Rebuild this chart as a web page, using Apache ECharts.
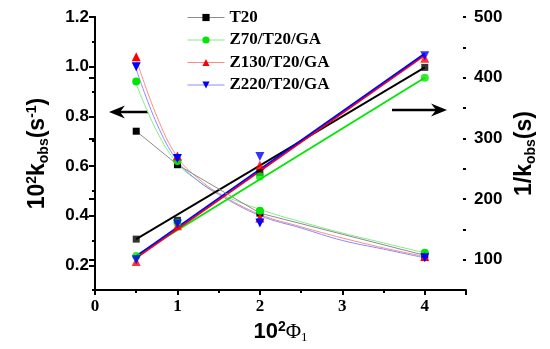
<!DOCTYPE html>
<html>
<head>
<meta charset="utf-8">
<script src="https://cdn.jsdelivr.net/npm/echarts@6/dist/echarts.min.js"></script>
<style>html,body{margin:0;padding:0;background:#fff;}#c{width:550px;height:349px;}</style>
</head>
<body>
<div id="c"></div>
<script>
// x positions (10^2 Phi_1)
const xVals = [0.5, 1, 2, 4];
// left axis: 10^2 k_obs (s^-1)
const kT20 = [0.74, 0.605, 0.41, 0.24];
const kZ70 = [0.94, 0.62, 0.42, 0.25];
const kZ130 = [1.04, 0.64, 0.39, 0.235];
const kZ220 = [1.00, 0.63, 0.37, 0.23];
// right axis: 1/k_obs (s)
const invT20 = [134, 165, 244, 417];
const invZ70 = [106, 161, 237, 400];
const invZ130 = [97, 156, 256, 432];
const invZ220 = [100, 159, 270, 436];
// fitted decay curves
const fitX = [0.5, 0.75, 1, 1.25, 1.5, 2, 2.5, 3, 3.5, 4];
const fitZ70 = [0.93, 0.74, 0.61, 0.54, 0.49, 0.425, 0.375, 0.33, 0.29, 0.25];
const fitZ130 = [1.03, 0.80, 0.635, 0.55, 0.49, 0.405, 0.355, 0.31, 0.27, 0.235];
const fitZ220 = [0.99, 0.77, 0.62, 0.54, 0.485, 0.40, 0.35, 0.30, 0.265, 0.23];
// linear fits (endpoints) on right axis
const linX = [0.5, 4];
const linT20 = [134, 417];
const linZ70 = [107, 400];
const linZ130 = [103, 437];
const linZ220 = [106, 440];
// tick labels
const xTicks = [0, 1, 2, 3, 4];
const leftTicks = [0.2, 0.4, 0.6, 0.8, 1.0, 1.2];
const rightTicks = [100, 200, 300, 400, 500];
const names = ['T20', 'Z70/T20/GA', 'Z130/T20/GA', 'Z220/T20/GA'];

const pair = (xs, ys) => xs.map((x, i) => [x, ys[i]]);

const cBlack = '#000000', cGreen = '#00e600', cRed = '#ff0000', cBlue = '#0000ff';
const pale = ['#8c8c8c', '#80ee80', '#ff8a8a', '#8a8aff'];
const cols = [cBlack, cGreen, cRed, cBlue];
const syms = ['rect', 'circle', 'triangle', 'path://M0,0 L10,0 L5,9 Z'];
const symSizes = [7, 8, 9, 9];

const chart = echarts.init(document.getElementById('c'));
const sansB = {fontFamily: 'Liberation Sans', fontWeight: 'bold', color: '#000'};
const hiddenLine = {show: true, lineStyle: {color: 'rgba(0,0,0,0)', width: 0}};

const series = [];
// left series (points)
[kT20, kZ70, kZ130, kZ220].forEach((arr, i) => {
  series.push({
    name: names[i], type: 'line', yAxisIndex: 0,
    data: pair(xVals, arr),
    symbol: syms[i], symbolSize: symSizes[i],
    itemStyle: {color: cols[i]},
    lineStyle: i === 0 ? {color: pale[0], width: 1} : {width: 0, opacity: 0},
    z: 5, silent: true
  });
});
// fit curves
[fitZ70, fitZ130, fitZ220].forEach((arr, i) => {
  series.push({
    type: 'line', yAxisIndex: 0, smooth: 0.4, showSymbol: false,
    data: pair(fitX, arr),
    lineStyle: {color: pale[i + 1], width: 1}, z: 3, silent: true
  });
});
// right linear fits
[linT20, linZ70, linZ130, linZ220].forEach((arr, i) => {
  series.push({
    type: 'line', yAxisIndex: 1, showSymbol: false,
    data: pair(linX, arr),
    lineStyle: {color: cols[i], width: 1.8}, z: 4, silent: true
  });
});
// right points
[invT20, invZ70, invZ130, invZ220].forEach((arr, i) => {
  series.push({
    type: 'scatter', yAxisIndex: 1,
    data: pair(xVals, arr),
    symbol: syms[i], symbolSize: symSizes[i],
    itemStyle: {color: cols[i]}, z: 5, silent: true
  });
});

chart.setOption({
  animation: false,
  grid: {left: 95, right: 84, top: 17, bottom: 57},
  legend: {
    orient: 'vertical', left: 182, top: 4,
    itemWidth: 37, itemHeight: 9, itemGap: 5.5,
    textStyle: {fontFamily: 'Liberation Serif', fontWeight: 'bold', fontSize: 17, color: '#000', lineHeight: 16},
    data: names.map((n, i) => ({name: n, lineStyle: {color: pale[i], width: 1, opacity: 1}}))
  },
  xAxis: [
    {
      type: 'value', min: 0, max: 4.5, interval: 1,
      axisLine: {show: true, onZero: false, lineStyle: {color: '#000', width: 2}},
      axisTick: {show: true, length: 5, lineStyle: {color: '#000', width: 2}},
      splitLine: {show: false},
      axisLabel: {customValues: xTicks, fontFamily: 'Liberation Serif', fontWeight: 'bold', fontSize: 17, color: '#000', margin: 8},
      name: '{b|10}{sup|2}{phi|Φ}{sub|1}', nameLocation: 'middle', nameGap: 24,
      nameTextStyle: {rich: {
        b: {fontFamily: 'Liberation Sans', fontWeight: 'bold', fontSize: 22, lineHeight: 24, color: '#000'},
        sup: {fontFamily: 'Liberation Sans', fontWeight: 'bold', fontSize: 14, verticalAlign: 'top', color: '#000'},
        phi: {fontFamily: 'Liberation Serif', fontSize: 21, color: '#000'},
        sub: {fontFamily: 'Liberation Serif', fontSize: 13, verticalAlign: 'bottom', color: '#000'}
      }}
    },
    {
      type: 'value', position: 'bottom', min: 0, max: 4.5, interval: 0.5,
      axisLine: Object.assign({onZero: false}, hiddenLine), axisLabel: {show: false}, splitLine: {show: false},
      axisTick: {show: true, length: 3, lineStyle: {color: '#000', width: 2}}
    }
  ],
  yAxis: [
    {
      type: 'value', position: 'left', min: 0.1, max: 1.2,
      axisLine: {show: true, lineStyle: {color: '#000', width: 2}},
      axisTick: {show: true, customValues: leftTicks, length: 6, lineStyle: {color: '#000', width: 2}},
      splitLine: {show: false},
      axisLabel: Object.assign({customValues: leftTicks, fontSize: 17, margin: 6, formatter: v => v.toFixed(1)}, sansB),
      name: '{b|10}{sup|2}{b|k}{sub|obs}{b|(s}{sup|-1}{b|)}', nameLocation: 'middle', nameRotate: 90, nameGap: 44,
      nameTextStyle: {rich: {
        b: Object.assign({fontSize: 23, lineHeight: 26}, sansB),
        sup: Object.assign({fontSize: 14, verticalAlign: 'top'}, sansB),
        sub: Object.assign({fontSize: 14, verticalAlign: 'bottom'}, sansB)
      }}
    },
    {
      type: 'value', position: 'right', min: 50, max: 500,
      axisLine: {show: true, lineStyle: {color: '#000', width: 2}},
      axisTick: {show: true, inside: true, customValues: rightTicks, length: 6, lineStyle: {color: '#000', width: 2}},
      splitLine: {show: false},
      axisLabel: Object.assign({customValues: rightTicks, fontSize: 17, margin: 8}, sansB),
      name: '{b|1/k}{sub|obs}{b|(s)}', nameLocation: 'middle', nameRotate: 90, nameGap: 46,
      nameTextStyle: {rich: {
        b: Object.assign({fontSize: 23, lineHeight: 26}, sansB),
        sub: Object.assign({fontSize: 14, verticalAlign: 'bottom'}, sansB)
      }}
    },
    {
      type: 'value', position: 'left', min: 0.1, max: 1.2, interval: 0.1,
      axisLine: hiddenLine, axisLabel: {show: false}, splitLine: {show: false},
      axisTick: {show: true, length: 3, lineStyle: {color: '#000', width: 2}}
    },
    {
      type: 'value', position: 'right', min: 50, max: 500, interval: 50,
      axisLine: hiddenLine, axisLabel: {show: false}, splitLine: {show: false},
      axisTick: {show: true, inside: true, length: 3, lineStyle: {color: '#000', width: 2}}
    }
  ],
  graphic: [
    {type: 'line', shape: {x1: 148, y1: 112, x2: 118, y2: 112}, style: {stroke: '#000', lineWidth: 2.5}},
    {type: 'polygon', shape: {points: [[109, 112], [125, 105.5], [120, 112], [125, 118.5]]}, style: {fill: '#000'}},
    {type: 'line', shape: {x1: 392, y1: 110, x2: 438, y2: 110}, style: {stroke: '#000', lineWidth: 2.5}},
    {type: 'polygon', shape: {points: [[447, 110], [431, 103.5], [436, 110], [431, 116.5]]}, style: {fill: '#000'}}
  ],
  series: series
});
</script>
</body>
</html>
